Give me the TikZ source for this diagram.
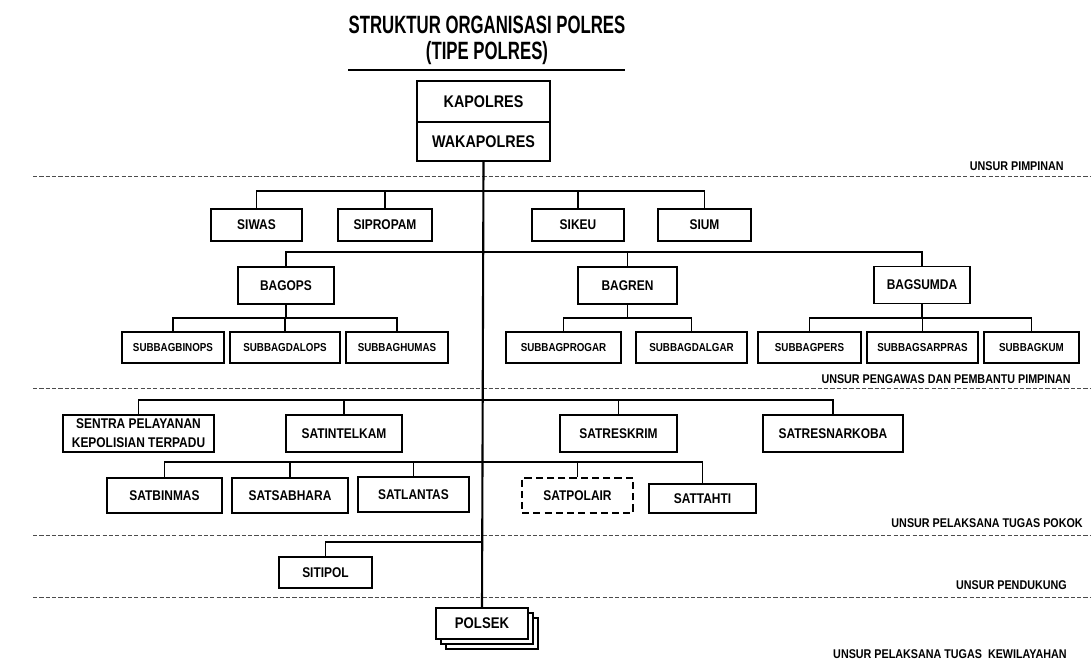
\documentclass[tikz,border=0pt]{standalone}
\usepackage{fontspec}
\setmainfont{Liberation Sans}[FakeStretch=0.85]
\newfontfamily\titlefont{Liberation Sans}[FakeStretch=0.67]
\usetikzlibrary{shadows}

\tikzset{
  unit/.style={draw, line width=1.4pt, fill=white, inner sep=1pt, align=center,
    font=\bfseries\fontsize{10}{13.5}\selectfont},
  subunit/.style={unit, font=\bfseries\fontsize{8.2}{10}\selectfont},
  wh/.style 2 args={minimum width=#1*0.025cm, minimum height=#2*0.025cm},
  link/.style={line width=1.1pt},
  trunk/.style={line width=1.5pt},
  zoneline/.style={gray!60!black, line width=0.6pt, dash pattern=on 3pt off 1.5pt},
  zonelabel/.style={anchor=east, inner sep=0pt, font=\bfseries\fontsize{9}{11}\selectfont},
  headline/.style={inner sep=0pt, font=\titlefont\bfseries\fontsize{17.8}{20}\selectfont}
}

\begin{document}
\begin{tikzpicture}[x=0.025cm, y=-0.025cm]
  \useasboundingbox (0,0) rectangle (1091,663);

  % Title
  \node[headline] (title) at (487,25) {STRUKTUR ORGANISASI POLRES};
  \node[headline] (subtitle) at (487,53) {(TIPE POLRES)};
  \draw[line width=1.3pt] (348,70) -- (625,70);

  % Zone separators and labels
  \foreach \y in {176,388,535,597} {
    \draw[zoneline] (33,\y) -- (1091,\y);
  }
  \node[zonelabel] (zpimpinan) at (1064,166) {UNSUR PIMPINAN};
  \node[zonelabel] (zpengawas) at (1071,379) {UNSUR PENGAWAS DAN PEMBANTU PIMPINAN};
  \node[zonelabel] (zpokok) at (1083,523) {UNSUR PELAKSANA TUGAS POKOK};
  \node[zonelabel] (zpendukung) at (1067,585) {UNSUR PENDUKUNG};
  \node[zonelabel] (zwilayah) at (1067,654) {UNSUR PELAKSANA TUGAS\ \ KEWILAYAHAN};

  % Leadership
  \node[unit, wh={133}{41}, font=\bfseries\fontsize{12}{14}\selectfont] (kapolres) at (483.5,101.5) {KAPOLRES};
  \node[unit, wh={133}{39}, font=\bfseries\fontsize{12}{14}\selectfont] (wakapolres) at (483.5,141.5) {WAKAPOLRES};

  % Staff
  \node[unit, wh={91}{32}] (siwas) at (256.5,225) {SIWAS};
  \node[unit, wh={94}{32}] (sipropam) at (385,225) {SIPROPAM};
  \node[unit, wh={92}{32}] (sikeu) at (578,225) {SIKEU};
  \node[unit, wh={93}{32}] (sium) at (704.5,225) {SIUM};

  % Bagian
  \node[unit, wh={96}{37}] (bagops) at (286,285.5) {BAGOPS};
  \node[unit, wh={99}{37}] (bagren) at (627.5,285.5) {BAGREN};
  \node[unit, wh={96}{37}] (bagsumda) at (922,285) {BAGSUMDA};

  % Subbagian
  \foreach \name/\x/\w/\txt in {binops/173/102/SUBBAGBINOPS, dalops/285/110/SUBBAGDALOPS,
      humas/397/102/SUBBAGHUMAS, progar/563.5/115/SUBBAGPROGAR, dalgar/691.5/111/SUBBAGDALGAR,
      pers/809.5/103/SUBBAGPERS, sarpras/922.5/111/SUBBAGSARPRAS, kum/1031.5/95/SUBBAGKUM} {
    \node[subunit, wh={\w}{31}] (\name) at (\x,347.5) {\txt};
  }

  % Satuan
  \node[unit, wh={151}{37}] (sentra) at (138.5,433.5) {SENTRA PELAYANAN\\KEPOLISIAN TERPADU};
  \node[unit, wh={116}{37}] (satintelkam) at (344,433.5) {SATINTELKAM};
  \node[unit, wh={117}{37}] (satreskrim) at (618.5,433.5) {SATRESKRIM};
  \node[unit, wh={140}{37}] (satresnarkoba) at (833,433.5) {SATRESNARKOBA};

  \node[unit, wh={115}{35}] (satbinmas) at (164.5,495.5) {SATBINMAS};
  \node[unit, wh={116}{35}] (satsabhara) at (290,495.5) {SATSABHARA};
  \node[unit, wh={111}{35}] (satlantas) at (413.5,494.5) {SATLANTAS};
  \node[unit, wh={111}{35}, dash pattern=on 5pt off 3pt] (satpolair) at (577.5,495.5) {SATPOLAIR};
  \node[unit, wh={107}{29}] (sattahti) at (702.5,498.5) {SATTAHTI};

  % Support and regional
  \node[unit, wh={93}{31}] (sitipol) at (325.5,572.5) {SITIPOL};
  \node[unit, wh={92}{31}, font=\bfseries\fontsize{11}{13}\selectfont,
    copy shadow={shadow xshift=7pt, shadow yshift=-7pt},
    copy shadow={shadow xshift=3.5pt, shadow yshift=-3.5pt}] (polsek) at (482,623.5) {POLSEK};

  % Main trunk
  \draw[trunk] (wakapolres.south) -- (polsek.north);

  % Buses
  \coordinate (staffbus) at (483,191);
  \coordinate (bagbus) at (483,252);
  \coordinate (opsbus) at (286,318);
  \coordinate (renbus) at (627,318);
  \coordinate (sumdabus) at (922,318);
  \coordinate (satbus) at (483,400);
  \coordinate (satsubbus) at (483,462);
  \coordinate (sitipolbus) at (483,542);

  \draw[link] (siwas.north) |- (sium.north |- staffbus) -- (sium.north);
  \foreach \n in {sipropam, sikeu} {
    \draw[link] (\n.north) -- (\n.north |- staffbus);
  }

  \draw[link] (bagops.north) |- (bagsumda.north |- bagbus) -- (bagsumda.north);
  \draw[link] (bagren.north) -- (bagren.north |- bagbus);

  \draw[link] (binops.north) |- (humas.north |- opsbus) -- (humas.north);
  \draw[link] (bagops.south) -- (bagops.south |- opsbus);
  \draw[link] (dalops.north) -- (dalops.north |- opsbus);

  \draw[link] (progar.north) |- (dalgar.north |- renbus) -- (dalgar.north);
  \draw[link] (bagren.south) -- (bagren.south |- renbus);

  \draw[link] (pers.north) |- (kum.north |- sumdabus) -- (kum.north);
  \draw[link] (bagsumda.south) -- (bagsumda.south |- sumdabus);
  \draw[link] (sarpras.north) -- (sarpras.north |- sumdabus);

  \draw[link] (sentra.north) |- (satresnarkoba.north |- satbus) -- (satresnarkoba.north);
  \foreach \n in {satintelkam, satreskrim} {
    \draw[link] (\n.north) -- (\n.north |- satbus);
  }

  \draw[link] (satbinmas.north) |- (sattahti.north |- satsubbus) -- (sattahti.north);
  \foreach \n in {satsabhara, satlantas, satpolair} {
    \draw[link] (\n.north) -- (\n.north |- satsubbus);
  }

  \draw[link] (sitipol.north) |- (sitipolbus);
\end{tikzpicture}
\end{document}
